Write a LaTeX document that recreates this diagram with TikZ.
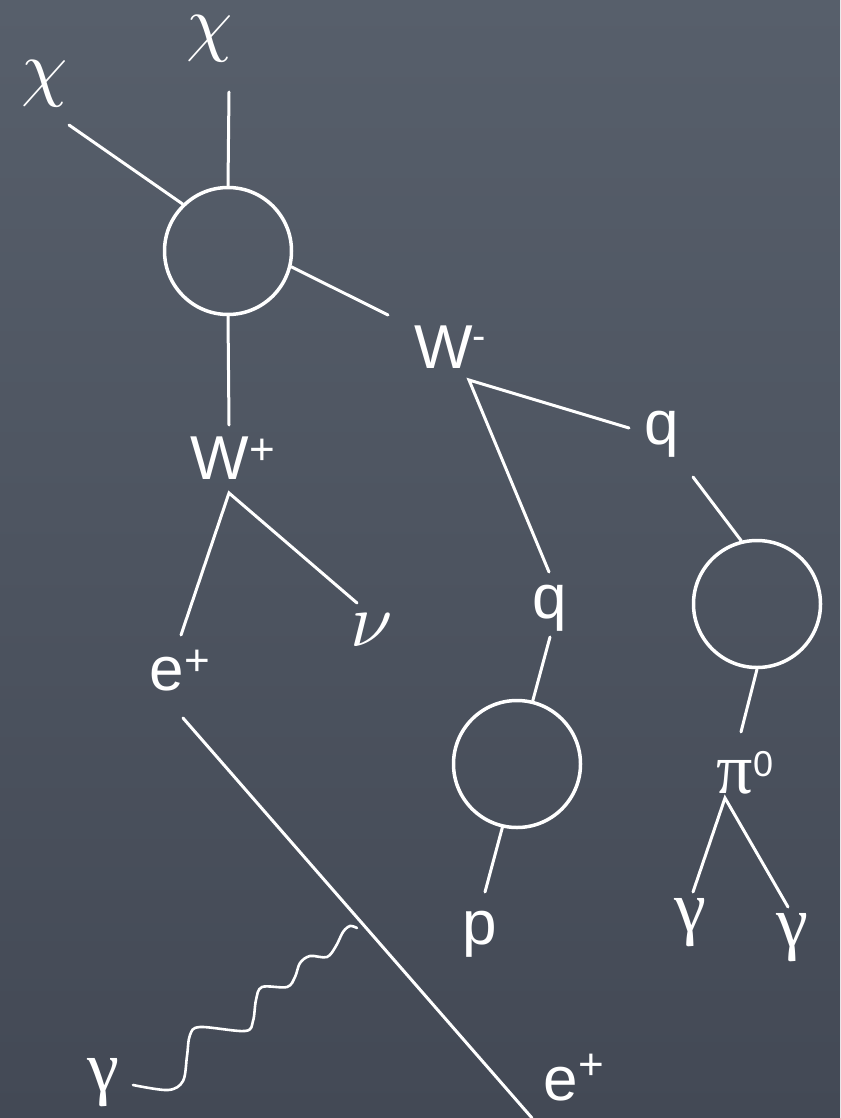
\documentclass[tikz,border=0pt]{standalone}
\usepackage{graphicx}
\usepackage{fontspec}
\setmainfont{Liberation Sans}
\newfontfamily\grk{Liberation Serif}
\definecolor{boardtop}{HTML}{575F6B}
\definecolor{boardbot}{HTML}{434955}
\newcommand\supx[3]{{\normalfont\fontsize{#1}{#1}\selectfont\raisebox{#2}{#3}}}
\newcommand\grkbig[2]{\scalebox{#1}{$#2$}}
\tikzset{
  lbl/.style={inner sep=0pt, anchor=center, text=white, font=\fontsize{62}{62}\selectfont},
  gk/.style={inner sep=0pt, anchor=center, text=white, font=\grk\fontsize{72}{72}\selectfont},
  gm/.style={inner sep=0pt, anchor=center, text=white, font=\fontsize{10}{12}\selectfont},
  ln/.style={draw=white, line width=3pt, line cap=round},
  blob/.style={draw=white, circle, line width=3.5pt, minimum size=127pt, inner sep=0pt},
}
\begin{document}
\begin{tikzpicture}[x=1pt,y=-1pt]
\shade[top color=boardtop, bottom color=boardbot] (0,0) rectangle (840,1118);
\useasboundingbox (0,0) rectangle (840,1118);

% blobs
\node[blob] (c1) at (228,251) {};
\node[blob] (c2) at (517,764) {};
\node[blob] (c3) at (757,604) {};

% labels
\node[gm] (chiL) at (45,84) {\grkbig{7.4}{\chi}};
\node[gm] (chiT) at (210,39) {\grkbig{7.4}{\chi}};
\node[lbl] (Wp) at (233,458) {W\supx{44}{15pt}{+}};
\node[lbl] (Wm) at (450,347) {W\supx{40}{19pt}{-}};
\node[lbl] (ep) at (180,671) {e\supx{44}{15pt}{+}};
\node[gm] (nu) at (372,630) {\grkbig{7.6}{\nu}};
\node[lbl] (qR) at (662,434) {q};
\node[lbl] (qL) at (550,608) {q};
\node[lbl] (p) at (480,934) {p};
\node[gk] (pi) at (745,773) {π\supx{36}{17pt}{0}};
\node[gk] (gL) at (690,923) {γ};
\node[gk] (gR) at (792,938) {γ};
\node[gk] (gB) at (103,1083) {γ};
\node[lbl] (ep2) at (574,1078) {e\supx{44}{21pt}{+}};

% connector ends
\coordinate (aChiL) at (69,125);
\coordinate (aChiT) at (229,92);
\coordinate (aWm) at (388,315);
\coordinate (aWp) at (229,425);
\coordinate (vWp) at (229,493);
\coordinate (aEp) at (181,635);
\coordinate (aNu) at (357,603);
\coordinate (vWm) at (469,380);
\coordinate (aQR) at (629,428);
\coordinate (aQL) at (549,572);
\coordinate (bQL) at (550,637);
\coordinate (aP) at (485,892);
\coordinate (bQR) at (693,477);
\coordinate (aPi) at (741,732);
\coordinate (vPi) at (725,798);
\coordinate (aGL) at (693,892);
\coordinate (aGR) at (788,907);
\coordinate (eStart) at (183,718);
\coordinate (eEnd) at (532,1118);
\coordinate (wS) at (133,1085);
\coordinate (wE) at (357,928);

% connectors
\draw[ln] (aChiL) -- (c1.134);
\draw[ln] (aChiT) -- (c1.90);
\draw[ln] (c1.-14) -- (aWm);
\draw[ln] (c1.270) -- (aWp);
\draw[ln] (aEp) -- (vWp) -- (aNu);
\draw[ln] (aQL) -- (vWm) -- (aQR);
\draw[ln] (bQL) -- (c2.76);
\draw[ln] (c2.257) -- (aP);
\draw[ln] (bQR) -- (c3.104);
\draw[ln] (c3.270) -- (aPi);
\draw[ln] (aGL) -- (vPi) -- (aGR);
\draw[ln] (eStart) -- (eEnd);

% photon
\draw[ln, line width=2.6pt] plot[smooth, tension=0.55] coordinates {
 (wS) (168,1090) (183,1081) (187,1056) (190,1035) (200,1027) (245,1031)
 (253,1021) (256,1000) (262,987) (287,987) (295,977) (300,963) (310,956)
 (327,957) (336,946) (343,932) (350,926) (wE)};
\end{tikzpicture}
\end{document}
